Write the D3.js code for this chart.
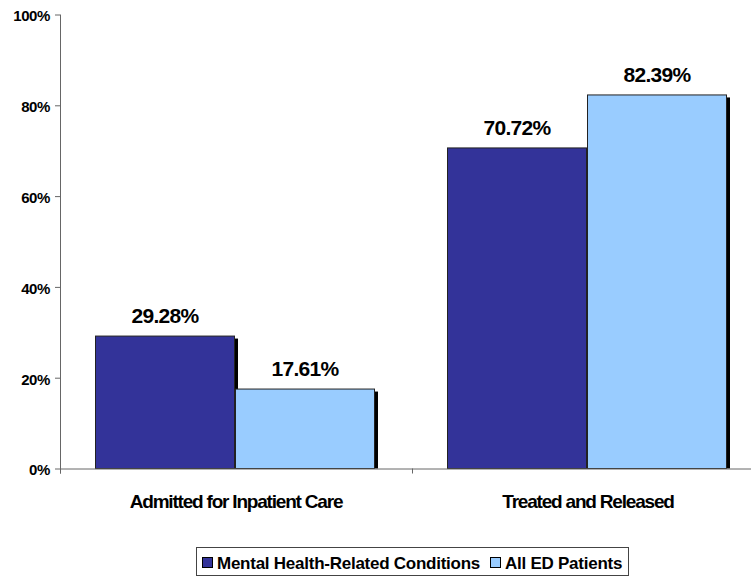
<!DOCTYPE html>
<html><head><meta charset="utf-8">
<script src="https://cdn.jsdelivr.net/npm/d3@7"></script>
<style>body{margin:0;background:#fff;} text{font-family:"Liberation Sans",Arial,sans-serif;font-weight:bold;}</style>
</head><body>
<script>
const categories = ["Admitted for Inpatient Care", "Treated and Released"];
const seriesNames = ["Mental Health-Related Conditions", "All ED Patients"];
const mentalHealth = [29.28, 70.72];
const allED = [17.61, 82.39];
const yTicks = [0, 20, 40, 60, 80, 100];
const colors = ["#333399", "#99CCFF"];

const W = 751, H = 576;
const svg = d3.select("body").append("svg").attr("width", W).attr("height", H);

const x0 = d3.scaleBand().domain(categories).range([60, 764]).paddingInner(0).paddingOuter(0);
const x1 = d3.scaleBand().domain(seriesNames).range([35, x0.bandwidth() - 37]);
const y = d3.scaleLinear().domain([0, 100]).range([468.5, 14.5]);

const data = categories.map((c, i) => ({cat: c, vals: [mentalHealth[i], allED[i]]}));

// y axis
const yAxis = svg.append("g").attr("transform", "translate(60,0)")
  .call(d3.axisLeft(y).tickValues(yTicks).tickSize(5).tickFormat(d => d + "%"));
yAxis.select(".domain").attr("stroke", "#666").attr("d", `M0.5,${y(100)}V${y(0) + 5}`);
yAxis.selectAll(".tick line").attr("stroke", "#666");
yAxis.selectAll(".tick text").attr("font-size", 15).attr("fill", "#000")
  .attr("letter-spacing", "-0.4").attr("x", -10).attr("dy", "0.42em");

// bars
const groups = svg.append("g").selectAll("g").data(data).join("g")
  .attr("transform", d => `translate(${x0(d.cat)},0)`);

groups.selectAll("rect.shadow").data(d => d.vals).join("rect").attr("class", "shadow")
  .attr("x", (v, i) => x1(seriesNames[i]) + 3)
  .attr("y", v => y(v) + 3)
  .attr("width", x1.bandwidth())
  .attr("height", v => y(0) - y(v) - 3)
  .attr("fill", "#000");

groups.selectAll("rect.bar").data(d => d.vals).join("rect").attr("class", "bar")
  .attr("x", (v, i) => x1(seriesNames[i]) + 0.5)
  .attr("y", v => y(v) + 0.5)
  .attr("width", x1.bandwidth() - 1)
  .attr("height", v => y(0) - y(v) - 0.5)
  .attr("fill", (v, i) => colors[i])
  .attr("stroke", "#222").attr("stroke-width", 1);

groups.selectAll("text.val").data(d => d.vals).join("text").attr("class", "val")
  .attr("x", (v, i) => x1(seriesNames[i]) + x1.bandwidth() / 2)
  .attr("y", v => y(v) - 12.5)
  .attr("text-anchor", "middle").attr("font-size", 21).attr("letter-spacing", "-0.7")
  .text(v => v.toFixed(2) + "%");

// x axis
const xAxis = svg.append("g").attr("transform", `translate(0,${y(0)})`)
  .call(d3.axisBottom(x0).tickSize(0));
xAxis.select(".domain").attr("stroke", "#666").attr("d", `M60,0.5H764`);
xAxis.selectAll(".tick text").attr("font-size", 19).attr("fill", "#000").attr("dy", 0).attr("y", 39).attr("letter-spacing", "-1.2");
xAxis.selectAll(".tick line").remove();
// category separator ticks
svg.append("g").selectAll("line").data(categories.concat(["end"])).join("line")
  .attr("x1", (d, i) => 60.5 + i * x0.bandwidth()).attr("x2", (d, i) => 60.5 + i * x0.bandwidth())
  .attr("y1", y(0)).attr("y2", y(0) + 5).attr("stroke", "#666");

// legend
const lg = svg.append("g").attr("transform", "translate(196,547)");
lg.append("rect").attr("x", 0.5).attr("y", 0.5).attr("width", 432).attr("height", 28)
  .attr("fill", "#fff").attr("stroke", "#444");
const legendX = [6, 294];
seriesNames.forEach((s, i) => {
  const g = lg.append("g").attr("transform", `translate(${legendX[i]},0)`);
  g.append("rect").attr("x", 0.5).attr("y", 10.5).attr("width", 10).attr("height", 10)
    .attr("fill", colors[i]).attr("stroke", "#000");
  g.append("text").attr("x", 15).attr("y", 22).attr("font-size", 17).attr("letter-spacing", "-0.25").text(s);
});
</script>
</body></html>
